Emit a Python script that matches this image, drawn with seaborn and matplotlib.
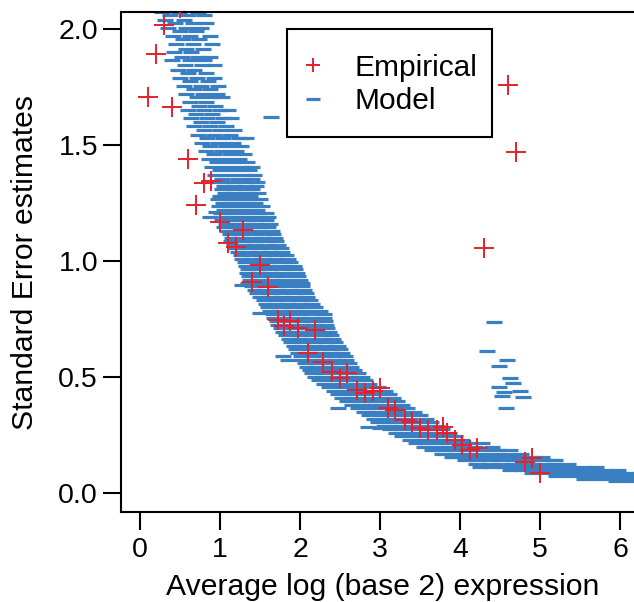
import pandas as pd
import numpy as np
import matplotlib
matplotlib.use("Agg")
import matplotlib.pyplot as plt
from matplotlib.lines import Line2D
from matplotlib.patches import Rectangle
import seaborn as sns

# ============================================
# DATA
# ============================================

# Empirical standard errors (red crosses)
emp_x = [0.10, 0.20, 0.30, 0.50, 0.40, 0.60, 0.70, 0.80, 0.89, 1.00,
         1.10, 1.20, 1.29, 1.40, 1.50, 1.60, 1.72, 1.80, 1.88, 1.98,
         2.10, 2.19, 2.29, 2.40, 2.50, 2.59, 2.71, 2.81, 2.91, 3.00,
         3.10, 3.19, 3.31, 3.40, 3.50, 3.60, 3.71, 3.79, 3.84, 3.94,
         4.02, 4.12, 4.21, 4.30, 4.60, 4.70, 4.81, 4.90, 5.00]
emp_y = [1.707, 1.89, 2.015, 2.09, 1.664, 1.44, 1.241, 1.336, 1.345, 1.168,
         1.078, 1.06, 1.134, 0.91, 0.983, 0.888, 0.745, 0.72, 0.74, 0.71,
         0.603, 0.703, 0.565, 0.522, 0.496, 0.517, 0.444, 0.431, 0.438, 0.452,
         0.366, 0.358, 0.315, 0.306, 0.28, 0.272, 0.272, 0.284, 0.259, 0.228,
         0.207, 0.185, 0.194, 1.056, 1.759, 1.47, 0.134, 0.151, 0.086]

# Model standard errors (blue dashes): (SE level, expression values on that level)
model_rows = [
    (2.075, [0.27, 0.49, 0.72]),
    (2.06, [0.38, 0.60, 0.80]),
    (2.04, [0.31, 0.55]),
    (2.025, [0.44, 0.66, 0.83]),
    (2.005, [0.35, 0.58, 0.76]),
    (1.99, [0.50, 0.70]),
    (1.97, [0.41, 0.63, 0.87]),
    (1.955, [0.54, 0.74]),
    (1.935, [0.45, 0.66, 0.90]),
    (1.915, [0.58, 0.79]),
    (1.90, [0.42, 0.64]),
    (1.88, [0.52, 0.72, 0.88]),
    (1.865, [0.40, 0.62, 0.80]),
    (1.845, [0.56, 0.77, 0.93]),
    (1.825, [0.47, 0.68]),
    (1.81, [0.60, 0.82]),
    (1.79, [0.50, 0.71, 0.92]),
    (1.775, [0.63, 0.85]),
    (1.755, [0.55, 0.76, 0.97]),
    (1.74, [0.68, 0.88]),
    (1.72, [0.58, 0.79, 0.96]),
    (1.705, [0.71, 0.90, 1.02]),
    (1.685, [0.62, 0.83]),
    (1.67, [0.74, 0.94]),
    (1.65, [0.60, 0.80, 1.00, 1.10]),
    (1.635, [0.70, 0.90]),
    (1.615, [0.64, 0.84, 1.04, 1.14]),
    (1.60, [0.76, 0.96]),
    (1.58, [0.68, 0.88, 1.08]),
    (1.565, [0.80, 1.00, 1.18]),
    (1.545, [0.72, 0.92, 1.12]),
    (1.53, [0.84, 1.04, 1.24, 1.32]),
    (1.51, [0.77, 0.97, 1.16]),
    (1.495, [0.88, 1.08, 1.26]),
    (1.475, [0.82, 1.02, 1.20]),
    (1.46, [0.92, 1.12, 1.30]),
    (1.44, [0.86, 1.05, 1.24]),
    (1.425, [0.96, 1.15, 1.34]),
    (1.405, [0.90, 1.09, 1.28, 1.40]),
    (1.39, [1.00, 1.19, 1.36]),
    (1.37, [0.94, 1.12, 1.30, 1.42]),
    (1.355, [1.03, 1.22, 1.40]),
    (1.34, [1.00, 1.16, 1.33, 1.46]),
    (1.325, [1.05, 1.18, 1.31, 1.45]),
    (1.31, [1.02, 1.15, 1.28, 1.40]),
    (1.295, [1.06, 1.20, 1.34, 1.47]),
    (1.28, [1.00, 1.12, 1.25, 1.38]),
    (1.265, [0.98, 1.10, 1.24, 1.37, 1.50]),
    (1.25, [1.04, 1.17, 1.30, 1.44]),
    (1.235, [0.99, 1.12, 1.26, 1.40, 1.52]),
    (1.22, [1.05, 1.18, 1.32, 1.46]),
    (1.205, [1.01, 1.14, 1.28, 1.42, 1.57]),
    (1.19, [1.08, 1.21, 1.35, 1.49, 1.60]),
    (1.175, [1.03, 1.16, 1.30, 1.44, 1.58]),
    (1.16, [1.07, 1.20, 1.34, 1.48, 1.62]),
    (1.145, [1.05, 1.18, 1.32, 1.46, 1.60]),
    (1.13, [1.09, 1.22, 1.36, 1.50, 1.65]),
    (1.115, [1.12, 1.25, 1.38, 1.52, 1.66]),
    (1.10, [1.15, 1.28, 1.42, 1.56, 1.69]),
    (1.085, [1.14, 1.27, 1.40, 1.54, 1.70]),
    (1.07, [1.18, 1.31, 1.45, 1.59, 1.73]),
    (1.055, [1.20, 1.33, 1.47, 1.61, 1.76]),
    (1.04, [1.22, 1.36, 1.50, 1.64, 1.78]),
    (1.025, [1.26, 1.39, 1.53, 1.67, 1.82]),
    (1.01, [1.28, 1.41, 1.55, 1.70, 1.85]),
    (0.995, [1.31, 1.44, 1.58, 1.72, 1.88]),
    (0.98, [1.33, 1.47, 1.61, 1.76, 1.92]),
    (0.965, [1.35, 1.49, 1.63, 1.78, 1.94]),
    (0.95, [1.34, 1.48, 1.62, 1.77, 1.96]),
    (0.935, [1.36, 1.50, 1.65, 1.80, 1.98]),
    (0.92, [1.38, 1.52, 1.67, 1.83, 2.00]),
    (0.905, [1.35, 1.49, 1.64, 1.79, 1.94, 2.02]),
    (0.89, [1.40, 1.55, 1.70, 1.85, 2.03]),
    (0.875, [1.44, 1.58, 1.73, 1.88, 2.05]),
    (0.86, [1.46, 1.61, 1.76, 1.92, 2.07]),
    (0.845, [1.50, 1.64, 1.79, 1.95, 2.09]),
    (0.83, [1.55, 1.69, 1.84, 1.98, 2.12]),
    (0.815, [1.57, 1.71, 1.86, 2.01, 2.15]),
    (0.80, [1.60, 1.74, 1.89, 2.04, 2.19]),
    (0.785, [1.62, 1.77, 1.92, 2.08, 2.25]),
    (0.77, [1.66, 1.81, 1.96, 2.12, 2.30]),
    (0.755, [1.68, 1.83, 1.98, 2.14, 2.30]),
    (0.74, [1.71, 1.86, 2.01, 2.16, 2.31]),
    (0.725, [1.73, 1.88, 2.03, 2.18, 2.32]),
    (0.71, [1.76, 1.91, 2.06, 2.21, 2.34]),
    (0.695, [1.79, 1.94, 2.09, 2.24, 2.36]),
    (0.68, [1.83, 1.97, 2.12, 2.27, 2.39]),
    (0.665, [1.86, 2.00, 2.15, 2.29, 2.41]),
    (0.65, [1.89, 2.03, 2.17, 2.31, 2.44]),
    (0.635, [1.92, 2.06, 2.20, 2.34, 2.47]),
    (0.62, [1.95, 2.09, 2.23, 2.37, 2.50]),
    (0.605, [1.98, 2.12, 2.26, 2.40, 2.53]),
    (0.59, [2.01, 2.15, 2.29, 2.43, 2.56]),
    (0.575, [2.04, 2.18, 2.32, 2.46, 2.58]),
    (0.56, [2.06, 2.20, 2.35, 2.49, 2.61]),
    (0.545, [2.09, 2.23, 2.37, 2.51, 2.64]),
    (0.53, [2.12, 2.26, 2.40, 2.54, 2.68]),
    (0.515, [2.15, 2.29, 2.44, 2.58, 2.72]),
    (0.50, [2.19, 2.33, 2.47, 2.62, 2.77]),
    (0.485, [2.24, 2.38, 2.52, 2.66, 2.81]),
    (0.47, [2.30, 2.44, 2.58, 2.72, 2.86]),
    (0.455, [2.36, 2.51, 2.66, 2.82, 2.98]),
    (0.44, [2.42, 2.57, 2.72, 2.88, 3.06]),
    (0.425, [2.48, 2.62, 2.77, 2.93, 3.11]),
    (0.41, [2.53, 2.67, 2.82, 2.98, 3.16]),
    (0.395, [2.59, 2.73, 2.88, 3.04, 3.21]),
    (0.38, [2.65, 2.79, 2.94, 3.10, 3.27]),
    (0.365, [2.72, 2.86, 3.01, 3.16, 3.34]),
    (0.35, [2.80, 2.94, 3.09, 3.24, 3.42]),
    (0.335, [2.86, 3.00, 3.15, 3.31, 3.50]),
    (0.32, [2.92, 3.06, 3.22, 3.38, 3.58]),
    (0.305, [2.98, 3.13, 3.29, 3.45, 3.64]),
    (0.29, [3.05, 3.20, 3.36, 3.52, 3.71]),
    (0.275, [3.13, 3.28, 3.44, 3.60, 3.78]),
    (0.26, [3.20, 3.35, 3.51, 3.68, 3.86]),
    (0.245, [3.28, 3.43, 3.59, 3.76, 3.94]),
    (0.23, [3.37, 3.52, 3.68, 3.85, 4.03]),
    (0.215, [3.45, 3.60, 3.76, 3.93, 4.10, 4.28]),
    (0.20, [3.55, 3.70, 3.86, 4.02, 4.19, 4.40]),
    (0.185, [3.65, 3.80, 3.96, 4.12, 4.29, 4.47, 4.62]),
    (0.17, [3.78, 3.93, 4.09, 4.25, 4.42, 4.59, 4.76]),
    (0.155, [3.92, 4.07, 4.23, 4.39, 4.56, 4.73, 4.90, 5.02]),
    (0.14, [4.06, 4.21, 4.37, 4.53, 4.70, 4.87, 5.04, 5.18]),
    (0.125, [4.20, 4.35, 4.51, 4.67, 4.84, 5.01, 5.18, 5.35]),
    (0.11, [4.40, 4.55, 4.71, 4.87, 5.04, 5.21, 5.38, 5.56, 5.70]),
    (0.097, [4.62, 4.78, 4.94, 5.11, 5.28, 5.45, 5.63, 5.81, 5.98]),
    (0.085, [4.90, 5.06, 5.23, 5.40, 5.57, 5.75, 5.93, 6.10, 6.25]),
    (0.073, [5.20, 5.37, 5.54, 5.72, 5.90, 6.08, 6.25]),
    (0.062, [5.55, 5.72, 5.90, 6.08, 6.25]),
    (0.052, [5.95, 6.12, 6.28]),
]

# single model dashes away from the main band
stray_x = [1.64, 0.88, 0.95, 1.28, 1.50, 1.79, 1.85, 2.47, 2.85, 3.00, 3.90, 4.25, 5.19]
stray_y = [1.62, 1.19, 1.21, 0.895, 0.776, 0.59, 0.575, 0.366, 0.285, 0.278, 0.155, 0.11, 0.142]

# small cluster of model dashes near x = 4.5
cluster_x = [4.43, 4.34, 4.59, 4.49, 4.63, 4.66, 4.49, 4.55, 4.75, 4.52, 4.79, 4.58]
cluster_y = [0.737, 0.612, 0.573, 0.547, 0.494, 0.476, 0.455, 0.436, 0.44, 0.418, 0.414, 0.366]

# ============================================
# BUILD TABLES
# ============================================

model_x = [x for lvl, xs in model_rows for x in xs] + stray_x + cluster_x
model_y = [lvl for lvl, xs in model_rows for x in xs] + stray_y + cluster_y

model_df = pd.DataFrame({"expr": model_x, "se": model_y})
emp_df = pd.DataFrame({"expr": emp_x, "se": emp_y})

RED = "#e8202a"
BLUE = "#3a7fc1"

# ============================================
# PLOT
# ============================================

sns.set_theme(style="ticks")
plt.rcParams["font.family"] = ["Liberation Sans", "DejaVu Sans"]

fig = plt.figure(figsize=(6.34, 6.02), dpi=100)
ax = fig.add_axes([121 / 634, 90 / 602, 523 / 634, 500 / 602])

sns.scatterplot(data=model_df, x="expr", y="se", marker="_", s=120,
                linewidth=2.3, color=BLUE, ax=ax, legend=False, zorder=2)
sns.scatterplot(data=emp_df, x="expr", y="se", marker="+", s=200,
                linewidth=1.4, color=RED, ax=ax, legend=False, zorder=3)

ax.set_xlim(-0.2375, 6.30)
ax.set_ylim(-0.082, 2.073)
ax.set_xticks([0, 1, 2, 3, 4, 5, 6])
ax.set_yticks([0.0, 0.5, 1.0, 1.5, 2.0])
ax.set_yticklabels(["0.0", "0.5", "1.0", "1.5", "2.0"])

ax.set_xlabel("Average log (base 2) expression", fontsize=21.7, color="black", labelpad=7)
ax.set_ylabel("Standard Error estimates", fontsize=21.7, color="black")
ax.yaxis.set_label_coords(-0.157, 0.5)

ax.tick_params(axis="both", length=13, width=1.5, colors="black", labelsize=20.5)
ax.tick_params(axis="x", pad=5)
ax.tick_params(axis="y", pad=3.5)

for side in ["left", "bottom", "top", "right"]:
    ax.spines[side].set_color("black")
    ax.spines[side].set_linewidth(1.5)

# legend frame drawn as its own box so its size matches the original
ax.add_patch(Rectangle((0.3174, 0.75), 0.392, 0.216, transform=ax.transAxes,
                       facecolor="white", edgecolor="black", linewidth=1.5,
                       zorder=4))
handles = [
    Line2D([], [], ls="none", marker="+", color=RED, markersize=9.5, mew=1.4),
    Line2D([], [], ls="none", marker="_", color=BLUE, markersize=9.5, mew=2.3),
]
leg = ax.legend(handles, ["Empirical", "Model"], loc="upper left",
                bbox_to_anchor=(0.347, 0.917), borderaxespad=0, borderpad=0,
                fontsize=21.5, handlelength=0.7, handletextpad=1.03,
                labelspacing=0.2, frameon=False)
leg.set_zorder(5)
for t in leg.get_texts():
    t.set_color("black")

fig.savefig("out.png", dpi=100)
